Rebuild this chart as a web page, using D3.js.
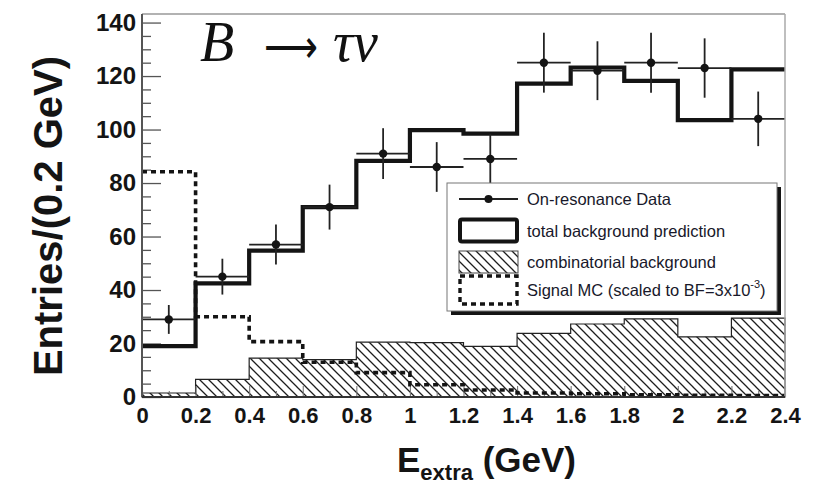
<!DOCTYPE html>
<html>
<head>
<meta charset="utf-8">
<script src="https://cdn.jsdelivr.net/npm/d3@7"></script>
<style>
  html, body { margin: 0; padding: 0; background: #fff; }
  svg { display: block; }
</style>
</head>
<body>
<svg id="chart" width="818" height="486"></svg>
<script>
// ---------- data ----------
const binEdges = [0, 0.2, 0.4, 0.6, 0.8, 1.0, 1.2, 1.4, 1.6, 1.8, 2.0, 2.2, 2.4];
const binCenters = [0.1, 0.3, 0.5, 0.7, 0.9, 1.1, 1.3, 1.5, 1.7, 1.9, 2.1, 2.3];
const dataValues = [29, 45, 57, 71, 91, 86, 89, 125, 122, 125, 123, 104];
const dataErrors = [5.4, 6.7, 7.5, 8.4, 9.5, 9.3, 9.4, 11.2, 11.0, 11.2, 11.1, 10.2];
const totalBkg = [19, 42.5, 54.7, 71, 88.3, 99.8, 98.5, 117.2, 123.2, 118.2, 103.5, 122.5];
const combBkg = [1.5, 6.6, 14.5, 14, 20.5, 20.3, 18.9, 23.8, 27.3, 29.2, 22.5, 29.5];
const signalMC = [84.2, 30, 20.7, 13, 9.1, 4.6, 2.6, 1.5, 1.2, 0.8, 0.6, 0.5];
const xTickValues = [0, 0.2, 0.4, 0.6, 0.8, 1, 1.2, 1.4, 1.6, 1.8, 2, 2.2, 2.4];
const xTickLabels = ["0", "0.2", "0.4", "0.6", "0.8", "1", "1.2", "1.4", "1.6", "1.8", "2", "2.2", "2.4"];
const yTickValues = [0, 20, 40, 60, 80, 100, 120, 140];
const yTickLabels = ["0", "20", "40", "60", "80", "100", "120", "140"];
const legendLabels = ["On-resonance Data", "total background prediction", "combinatorial background", "Signal MC (scaled to BF=3x10"];

// ---------- layout ----------
const plot = { left: 142, right: 785, top: 14, bottom: 397 };
const svg = d3.select("#chart");
const x = d3.scaleLinear().domain([0, 2.4]).range([plot.left, plot.right]);
const y = d3.scaleLinear().domain([0, 143.2]).range([plot.bottom, plot.top]);
const sans = "'Liberation Sans', Arial, Helvetica, sans-serif";
const ink = "#141414";

// hatch pattern
const defs = svg.append("defs");
const pat = defs.append("pattern").attr("id", "hatch")
  .attr("patternUnits", "userSpaceOnUse").attr("width", 9).attr("height", 9);
pat.append("path").attr("d", "M-1,-1 L10,10 M-1,8 L1,10 M8,-1 L10,1")
  .attr("stroke", "#1e1e1e").attr("stroke-width", 1.3);

// step-points helper
function stepPoints(vals) {
  const pts = vals.map((v, i) => [binEdges[i], v]);
  pts.push([binEdges[binEdges.length - 1], vals[vals.length - 1]]);
  return pts;
}
const stepLine = d3.line().x(d => x(d[0])).y(d => y(d[1])).curve(d3.curveStepAfter);
const stepArea = d3.area().x(d => x(d[0])).y0(y(0)).y1(d => y(d[1])).curve(d3.curveStepAfter);

// combinatorial background (hatched)
svg.append("path").datum(stepPoints(combBkg))
  .attr("d", stepArea).attr("fill", "url(#hatch)")
  .attr("stroke", "#222").attr("stroke-width", 1.2);

// axis ticks (inside)
const yMinor = d3.range(0, 143, 5).filter(v => v % 20 !== 0);
svg.append("g").attr("transform", `translate(${plot.left},0)`)
  .call(d3.axisLeft(y).tickValues(yMinor).tickSize(-9).tickFormat(""))
  .call(g => g.select(".domain").remove())
  .call(g => g.selectAll("line").attr("stroke", "#555").attr("stroke-width", 1.3));
svg.append("g").attr("transform", `translate(${plot.left},0)`)
  .call(d3.axisLeft(y).tickValues(yTickValues).tickSize(-19).tickPadding(6)
    .tickFormat((d, i) => yTickLabels[i]))
  .call(g => g.select(".domain").remove())
  .call(g => g.selectAll("line").attr("stroke", "#555").attr("stroke-width", 1.3))
  .call(g => g.selectAll("text").attr("font-family", sans).attr("font-weight", "bold")
    .attr("font-size", 24).attr("fill", ink));

const xMinor = d3.range(0, 2.41, 0.1).filter(v => Math.abs(v / 0.2 - Math.round(v / 0.2)) > 0.01);
svg.append("g").attr("transform", `translate(0,${plot.bottom})`)
  .call(d3.axisBottom(x).tickValues(xMinor).tickSize(-6).tickFormat(""))
  .call(g => g.select(".domain").remove())
  .call(g => g.selectAll("line").attr("stroke", "#777").attr("stroke-width", 1.1));
svg.append("g").attr("transform", `translate(0,${plot.bottom})`)
  .call(d3.axisBottom(x).tickValues(xTickValues).tickSize(-11).tickPadding(10)
    .tickFormat((d, i) => xTickLabels[i]))
  .call(g => g.select(".domain").remove())
  .call(g => g.selectAll("line").attr("stroke", "#777").attr("stroke-width", 1.1))
  .call(g => g.selectAll("text").attr("font-family", sans).attr("font-weight", "bold")
    .attr("font-size", 22).attr("fill", ink));

// signal MC (dotted)
svg.append("path").datum(stepPoints(signalMC))
  .attr("d", stepLine).attr("fill", "none")
  .attr("stroke", ink).attr("stroke-width", 3.6).attr("stroke-dasharray", "5,4");

// total background (thick)
svg.append("path").datum(stepPoints(totalBkg))
  .attr("d", stepLine).attr("fill", "none")
  .attr("stroke", ink).attr("stroke-width", 4.2);

// data points
const pts = svg.append("g");
binCenters.forEach((c, i) => {
  const g = pts.append("g");
  g.append("line").attr("x1", x(binEdges[i])).attr("x2", x(binEdges[i + 1]))
    .attr("y1", y(dataValues[i])).attr("y2", y(dataValues[i]))
    .attr("stroke", "#222").attr("stroke-width", 1.8);
  g.append("line").attr("x1", x(c)).attr("x2", x(c))
    .attr("y1", y(dataValues[i] - dataErrors[i])).attr("y2", y(dataValues[i] + dataErrors[i]))
    .attr("stroke", "#222").attr("stroke-width", 1.8);
  g.append("circle").attr("cx", x(c)).attr("cy", y(dataValues[i])).attr("r", 4.2).attr("fill", ink);
});

// frame
svg.append("line").attr("x1", plot.left).attr("x2", plot.right).attr("y1", plot.top).attr("y2", plot.top)
  .attr("stroke", "#999").attr("stroke-width", 1.5);
svg.append("line").attr("x1", plot.right).attr("x2", plot.right).attr("y1", plot.top).attr("y2", plot.bottom)
  .attr("stroke", "#aaa").attr("stroke-width", 1.5);
svg.append("line").attr("x1", plot.left).attr("x2", plot.left).attr("y1", plot.top).attr("y2", plot.bottom)
  .attr("stroke", "#555").attr("stroke-width", 2);
svg.append("line").attr("x1", plot.left).attr("x2", plot.right).attr("y1", plot.bottom).attr("y2", plot.bottom)
  .attr("stroke", "#333").attr("stroke-width", 2);

// legend
const leg = { x: 447, y: 183, w: 330, h: 128 };
svg.append("rect").attr("x", leg.x + 4).attr("y", leg.y + 4).attr("width", leg.w).attr("height", leg.h).attr("fill", ink);
svg.append("rect").attr("x", leg.x).attr("y", leg.y).attr("width", leg.w).attr("height", leg.h)
  .attr("fill", "#fff").attr("stroke", "#777").attr("stroke-width", 1);
const rowY = [199, 230.5, 262, 290];
const sx0 = 459, sx1 = 518, tx = 527;
// row 1
svg.append("line").attr("x1", sx0).attr("x2", sx1).attr("y1", rowY[0]).attr("y2", rowY[0])
  .attr("stroke", "#222").attr("stroke-width", 1.8);
svg.append("circle").attr("cx", (sx0 + sx1) / 2).attr("cy", rowY[0]).attr("r", 4).attr("fill", ink);
// row 2
svg.append("rect").attr("x", sx0 + 1).attr("y", rowY[1] - 11).attr("width", sx1 - sx0 - 2).attr("height", 22)
  .attr("rx", 2).attr("fill", "#fff").attr("stroke", ink).attr("stroke-width", 4);
// row 3
svg.append("rect").attr("x", sx0).attr("y", rowY[2] - 11).attr("width", sx1 - sx0).attr("height", 22)
  .attr("fill", "url(#hatch)").attr("stroke", "#444").attr("stroke-width", 1);
// row 4
svg.append("rect").attr("x", sx0 + 1).attr("y", rowY[3] - 14).attr("width", sx1 - sx0 - 2).attr("height", 28)
  .attr("fill", "none").attr("stroke", ink).attr("stroke-width", 3.4).attr("stroke-dasharray", "5,4");
legendLabels.forEach((t, i) => {
  const txt = svg.append("text").attr("x", tx).attr("y", rowY[i] + 6)
    .attr("font-family", sans).attr("font-size", 16.5).attr("fill", "#18182a").text(t);
  if (i === 3) {
    txt.append("tspan").attr("font-size", 11).attr("dy", -8).text("-3");
    txt.append("tspan").attr("dy", 8).text(")");
  }
});

// title B -> tau nu
const serif = "'Liberation Serif', 'DejaVu Serif', serif";
svg.append("text").attr("x", 200).attr("y", 61).attr("font-family", serif).attr("font-size", 56)
  .attr("font-style", "italic").attr("fill", "#111").text("B");
svg.append("text").attr("x", 264).attr("y", 63).attr("font-family", "'DejaVu Sans', sans-serif")
  .attr("font-weight", 200).attr("font-size", 46).attr("textLength", 54).attr("lengthAdjust", "spacingAndGlyphs")
  .attr("fill", "#111").text("⟶");
svg.append("text").attr("x", 333).attr("y", 61).attr("font-family", serif).attr("font-size", 56)
  .attr("font-style", "italic").attr("fill", "#111").text("τν");

// axis titles
svg.append("text").attr("transform", "translate(62,216) rotate(-90)")
  .attr("text-anchor", "middle").attr("font-family", sans).attr("font-weight", "bold")
  .attr("font-size", 40).attr("fill", ink).text("Entries/(0.2 GeV)");
const xl = svg.append("text").attr("x", 397).attr("y", 472)
  .attr("font-family", sans).attr("font-weight", "bold").attr("font-size", 35).attr("fill", ink);
xl.append("tspan").text("E");
xl.append("tspan").attr("font-size", 22).attr("dy", 8).text("extra");
xl.append("tspan").attr("dy", -8).text(" (GeV)");
</script>
</body>
</html>
